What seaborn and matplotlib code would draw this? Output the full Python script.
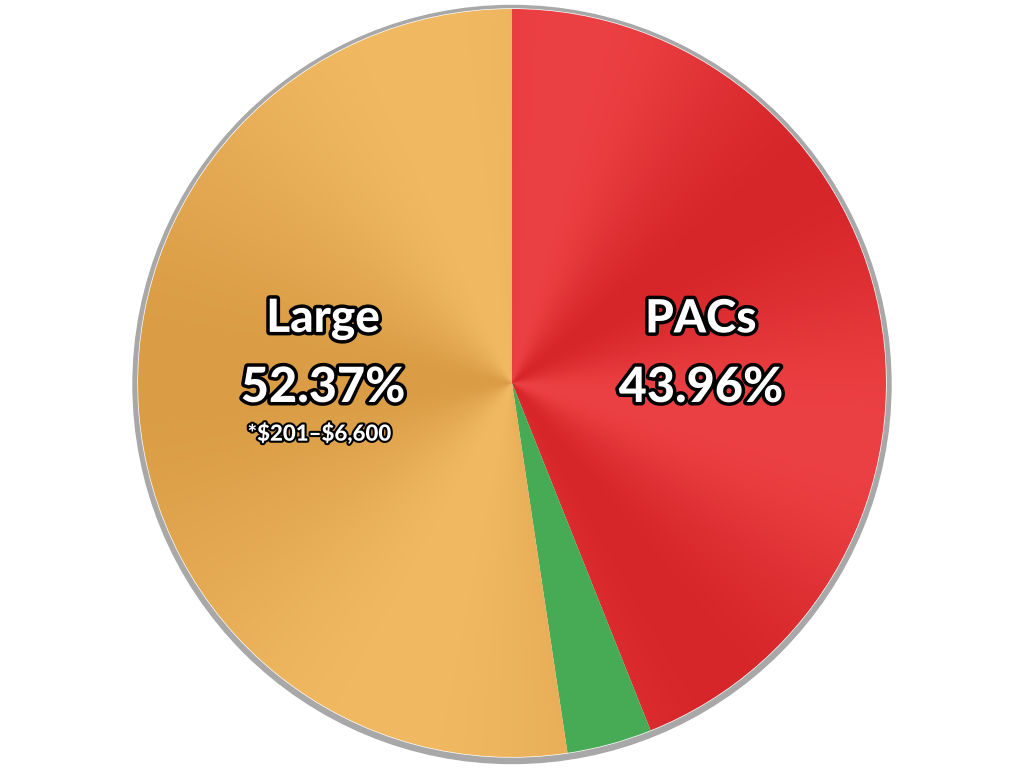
import numpy as np
import matplotlib
matplotlib.use("Agg")
import matplotlib.pyplot as plt
import matplotlib.patheffects as pe
import seaborn as sns

labels = ["PACs", "Small", "Large"]
shares = [43.96, 3.67, 52.37]
show_label = [True, False, True]
notes = ["", "", "*$201–$6,600"]
base_colors = ["#dd2c30", "#4aad57", "#e4a852"]
dark_colors = ["#d6262a", "#47aa54", "#da9d46"]
light_colors = ["#ec4144", "#4fb25b", "#f0b962"]
# angular position (deg, clockwise from top) of the brightest sheen, and sheen frequency
sheen_at = [100, 0, 200]
sheen_freq = [4.0, 1.0, 2.5]

sns.set_style("white")
plt.rcParams["font.family"] = ["Lato", "DejaVu Sans"]

fig = plt.figure(figsize=(10.24, 7.68), dpi=100)
ax = fig.add_axes([0, 0, 1, 1])
R = 374.0  # pixels per unit radius

# grey rim with a slight drop toward the bottom
ax.add_patch(plt.Circle((0, -1.5 / R), 1 + 5 / R, color="#a8a8a8", zorder=0))

wedges, _ = ax.pie(shares, colors=base_colors, startangle=90, counterclock=False,
                   radius=1.0, center=(0, 0), frame=True,
                   wedgeprops=dict(zorder=1))

# conic metallic sheen clipped to each wedge
n = 900
xs = np.linspace(-1, 1, n)
X, Y = np.meshgrid(xs, xs[::-1])
ang = np.degrees(np.arctan2(X, Y)) % 360
for w, dc, lc, s0, fq in zip(wedges, dark_colors, light_colors, sheen_at, sheen_freq):
    t = 0.5 + 0.5 * np.cos(np.radians(fq * (ang - s0)))
    d = np.array(matplotlib.colors.to_rgb(dc))
    l = np.array(matplotlib.colors.to_rgb(lc))
    img = d[None, None, :] * (1 - t[..., None]) + l[None, None, :] * t[..., None]
    im = ax.imshow(img, extent=(-1, 1, -1, 1), zorder=2, interpolation="bilinear")
    im.set_clip_path(w)

ax.set_xlim(-512 / R, 512 / R)
ax.set_ylim(-385 / R, 383 / R)
ax.axis("off")

stroke = [pe.withStroke(linewidth=5, foreground="black")]
small_stroke = [pe.withStroke(linewidth=3, foreground="black")]
cum = np.cumsum([0] + shares)
for i, (lab, sh, show, note) in enumerate(zip(labels, shares, show_label, notes)):
    if not show:
        continue
    mid = np.radians(90 - 3.6 * (cum[i] + cum[i + 1]) / 2)
    cx = 0.505 * np.sign(np.cos(mid))
    ax.text(cx, 0.17, lab, ha="center", va="center", fontsize=33, fontweight="black",
            color="white", path_effects=stroke, zorder=5)
    ax.text(cx, -0.012, f"{sh:.2f}%", ha="center", va="center", fontsize=35, fontweight="black",
            color="white", path_effects=stroke, zorder=5)
    if note:
        ax.text(cx - 0.01, -0.135, note, ha="center", va="center", fontsize=16, fontweight="black",
                color="white", path_effects=small_stroke, zorder=5, parse_math=False)

fig.savefig("out.png", dpi=100)
